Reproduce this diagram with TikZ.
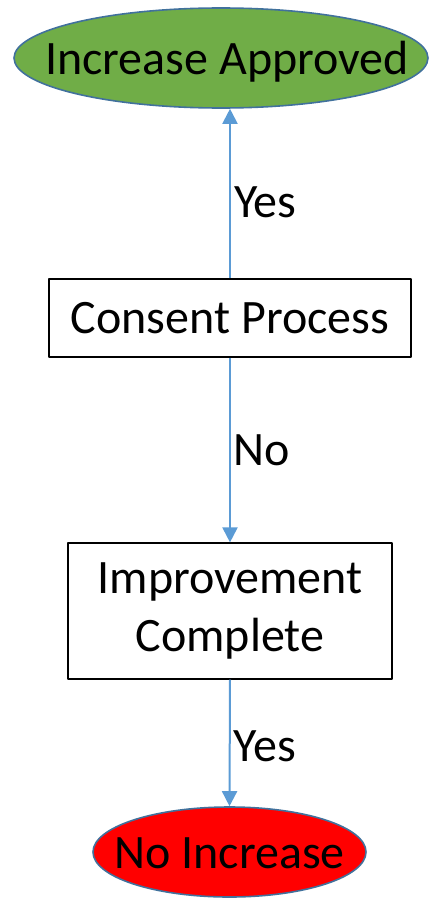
\documentclass[tikz,border=0pt]{standalone}
\usepackage{fontspec}
\setmainfont{Carlito}
\usetikzlibrary{shapes.geometric,arrows.meta}
\definecolor{okgreen}{HTML}{70AD47}
\definecolor{rimblue}{HTML}{41719C}
\definecolor{flowblue}{HTML}{5B9BD5}
\begin{document}
\begin{tikzpicture}[x=1pt,y=-1pt,>={Triangle[width=15pt,length=15pt]},
    line join=round,font=\fontsize{48}{58}\selectfont,
    endpoint/.style={ellipse,draw=rimblue,line width=1.6pt,inner sep=0pt},
    stepbox/.style={draw=black,line width=1.2pt,inner sep=0pt,align=center},
    flow/.style={->,draw=flowblue,line width=2pt}]
    \useasboundingbox (0,0) rectangle (431,899);
    % end states and steps
    \node[endpoint,fill=okgreen,minimum width=414pt,minimum height=100pt,
    label={[xshift=6pt,yshift=-4pt]center:Increase Approved}]
    (approved) at (221,58) {};
    \node[stepbox,minimum width=362pt,minimum height=78pt]
    (consent) at (230,318) {Consent Process};
    \node[stepbox,minimum width=324pt,minimum height=136pt]
    (improve) at (230,611) {Improvement\\Complete};
    \node[endpoint,fill=red,minimum width=273pt,minimum height=90pt,
    label={[yshift=-1pt]center:No Increase}]
    (noincrease) at (229.5,852) {};
    % connectors
    \draw[flow] (consent.north) -- (consent.north |- approved.south)
    node[pos=.45,right,inner sep=3pt,text=black]{Yes};
    \draw[flow] (consent.south) -- (improve.north)
    node[midway,right,inner sep=2pt,text=black]{No};
    \draw[flow] (improve.south) -- (noincrease.north)
    node[pos=.53,right,inner sep=3pt,text=black]{Yes};
\end{tikzpicture}
\end{document}
